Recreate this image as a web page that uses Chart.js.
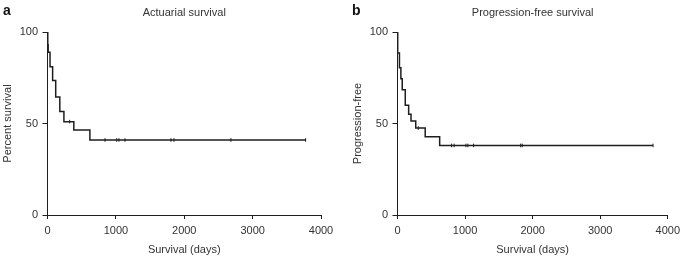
<!DOCTYPE html>
<html>
<head>
<meta charset="utf-8">
<script src="https://cdn.jsdelivr.net/npm/chart.js@4.4.0/dist/chart.umd.min.js"></script>
<style>
  html, body { margin: 0; padding: 0; background: #fff; }
  #wrap { position: relative; width: 685px; height: 258px; }
  .panel { position: absolute; top: 0; height: 258px; }
  #pa { left: 0; width: 345px; }
  #pb { left: 350px; width: 335px; }
</style>
</head>
<body>
<div id="wrap">
  <div class="panel" id="pa"><canvas id="chartA"></canvas></div>
  <div class="panel" id="pb"><canvas id="chartB"></canvas></div>
</div>
<script>
// panel a - actuarial survival (Kaplan-Meier steps)
var daysA = [0, 4, 10, 37, 75, 120, 180, 240, 385, 620, 3780];
var pctA = [100, 93, 89, 81, 73.5, 64.5, 56.5, 51, 46.5, 41, 41];
var censorDaysA = [324, 841, 1012, 1045, 1133, 1806, 1850, 2683, 3775];
var censorPctA = [51, 41, 41, 41, 41, 41, 41, 41, 41];

// panel b - progression-free survival
var daysB = [0, 3, 29, 50, 70, 115, 165, 200, 270, 410, 624, 3780];
var pctB = [100, 88.5, 80.5, 74.5, 68.5, 60, 55, 51.3, 47.5, 42.7, 38, 38];
var censorDaysB = [307, 800, 838, 1013, 1042, 1126, 1823, 1846, 3782];
var censorPctB = [47.5, 38, 38, 38, 38, 38, 38, 38, 38];

var xTicks = [0, 1000, 2000, 3000, 4000];
var yTicks = [0, 50, 100];

var FONT = '"Liberation Sans", Arial, sans-serif';
var INK = '#1e1e1e';
var TXT = '#333';

function pts(xs, ys) {
  return xs.map(function (x, i) { return { x: x, y: ys[i] }; });
}

function plain(v) { return String(v); }

// bold panel letter in the top-left corner
var letterPlugin = {
  id: 'panelLetter',
  afterDraw: function (chart, args, opts) {
    var ctx = chart.ctx;
    ctx.save();
    ctx.font = 'bold 14px ' + FONT;
    ctx.fillStyle = '#111';
    ctx.textBaseline = 'alphabetic';
    ctx.fillText(opts.text, opts.x, 15);
    ctx.restore();
  }
};

function makeChart(id, title, yTitle, letter, letterX, days, pct, cDays, cPct, padRight) {
  return new Chart(document.getElementById(id), {
    type: 'line',
    data: {
      datasets: [{
        data: pts(days, pct),
        borderColor: INK,
        borderWidth: 1.5,
        pointRadius: 0,
        stepped: 'before',
        fill: false
      }, {
        data: pts(cDays, cPct),
        showLine: false,
        pointStyle: 'line',
        rotation: 90,
        pointRadius: 1.8,
        borderColor: INK,
        borderWidth: 1
      }]
    },
    options: {
      responsive: true,
      maintainAspectRatio: false,
      animation: false,
      layout: { padding: { left: 0, right: padRight, top: 0, bottom: 0 } },
      plugins: {
        legend: { display: false },
        tooltip: { enabled: false },
        title: {
          display: true,
          text: title,
          fullSize: false,
          color: TXT,
          font: { family: FONT, size: 11, weight: 'normal' },
          padding: { top: 6, bottom: 12.8 }
        },
        panelLetter: { text: letter, x: letterX }
      },
      scales: {
        x: {
          type: 'linear',
          min: 0,
          max: 4000,
          afterFit: function (s) { s.height = 43; },
          afterBuildTicks: function (s) { s.ticks = xTicks.map(function (v) { return { value: v }; }); },
          grid: { drawOnChartArea: false, tickLength: 4, tickColor: INK },
          border: { display: true, color: INK, width: 1 },
          ticks: { color: TXT, font: { family: FONT, size: 11 }, padding: 5, maxRotation: 0, callback: plain },
          title: {
            display: true,
            text: 'Survival (days)',
            color: TXT,
            font: { family: FONT, size: 11 },
            padding: { top: 0, bottom: 1 }
          }
        },
        y: {
          min: 0,
          max: 100,
          afterFit: function (s) { s.width = 47.5; },
          afterBuildTicks: function (s) { s.ticks = yTicks.map(function (v) { return { value: v }; }); },
          grid: { drawOnChartArea: false, tickLength: 5, tickColor: INK },
          border: { display: true, color: INK, width: 1 },
          ticks: { color: TXT, font: { family: FONT, size: 11 }, padding: 4.5, callback: plain },
          title: {
            display: true,
            text: yTitle,
            color: TXT,
            font: { family: FONT, size: 11 },
            padding: { top: 1, bottom: 0 }
          }
        }
      }
    },
    plugins: [letterPlugin]
  });
}

makeChart('chartA', 'Actuarial survival', 'Percent survival', 'a', 3,
  daysA, pctA, censorDaysA, censorPctA, 24);
makeChart('chartB', 'Progression-free survival', 'Progression-free', 'b', 2,
  daysB, pctB, censorDaysB, censorPctB, 13.3);
</script>
</body>
</html>
